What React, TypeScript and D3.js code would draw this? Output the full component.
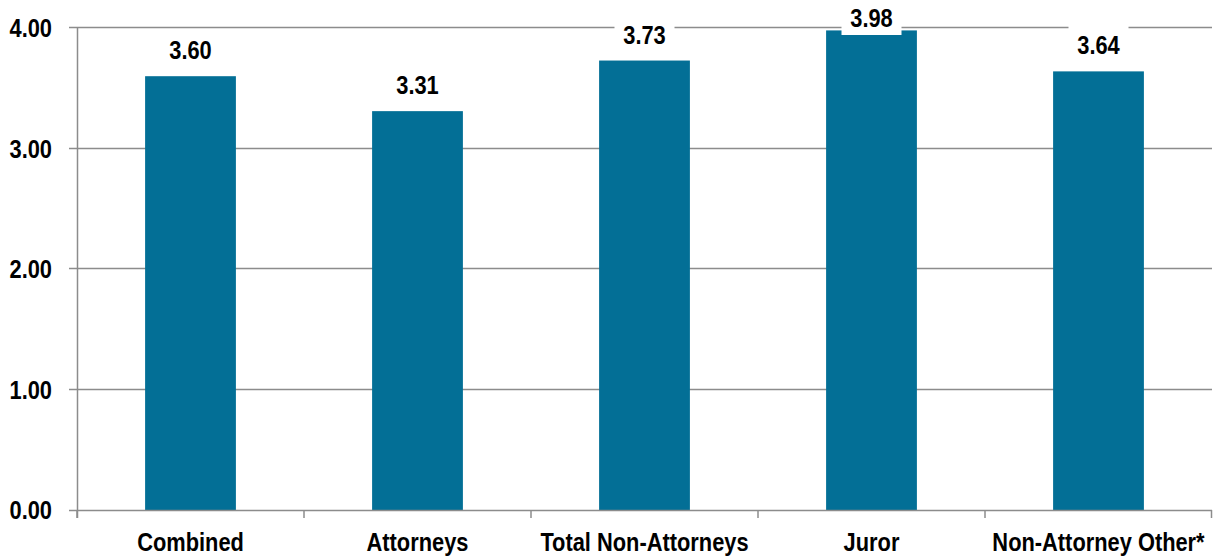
import React, { useEffect, useRef } from "react";
import * as d3 from "d3";

const categories = ["Combined", "Attorneys", "Total Non-Attorneys", "Juror", "Non-Attorney Other*"];
const values = [3.6, 3.31, 3.73, 3.98, 3.64];
const yTicks = [0, 1, 2, 3, 4];

const W = 1213;
const H = 558;
const FONT = "'Liberation Sans', Arial, sans-serif";
const NARROW = 0.84; // no narrow face installed, squeeze the regular one

const App = () => {
    const svgRef = useRef<SVGSVGElement>(null);

    useEffect(() => {
        const svg = d3.select(svgRef.current);
        svg.selectAll("*").remove();

        const margin = { top: 28, right: 1, bottom: 48, left: 77 };

        const x = d3.scaleBand<string>()
            .domain(categories)
            .range([margin.left, W - margin.right])
            .paddingInner(0.6)
            .paddingOuter(0.3);

        const y = d3.scaleLinear()
            .domain([0, 4])
            .range([H - margin.bottom, margin.top]);

        const step = x.step();
        const x0 = margin.left;
        const grey = "#8c8c8c";

        // gridlines
        svg.append("g")
            .selectAll("line")
            .data(yTicks.filter(t => t > 0))
            .enter()
            .append("line")
            .attr("x1", x0 - 8)
            .attr("x2", W - margin.right)
            .attr("y1", d => Math.round(y(d)) - 0.5)
            .attr("y2", d => Math.round(y(d)) - 0.5)
            .attr("stroke", grey)
            .attr("stroke-width", 1.5);

        // bars
        svg.append("g")
            .selectAll("rect")
            .data(values)
            .enter()
            .append("rect")
            .attr("x", (d, i) => x(categories[i])!)
            .attr("width", x.bandwidth())
            .attr("y", d => y(d))
            .attr("height", d => y(0) - y(d))
            .attr("fill", "#036f96");

        // axes lines
        svg.append("line")
            .attr("x1", x0 + 0.5).attr("x2", x0 + 0.5)
            .attr("y1", y(4)).attr("y2", y(0) + 8)
            .attr("stroke", grey).attr("stroke-width", 1.5);

        svg.append("line")
            .attr("x1", x0 - 8).attr("x2", W - margin.right)
            .attr("y1", y(0) + 0.5).attr("y2", y(0) + 0.5)
            .attr("stroke", grey).attr("stroke-width", 1.5);

        // bottom tick marks at category boundaries
        svg.append("g")
            .selectAll("line")
            .data(d3.range(categories.length + 1))
            .enter()
            .append("line")
            .attr("x1", i => Math.min(x0 + i * step, W - 1.5))
            .attr("x2", i => Math.min(x0 + i * step, W - 1.5))
            .attr("y1", y(0))
            .attr("y2", y(0) + 8)
            .attr("stroke", grey)
            .attr("stroke-width", 1.5);

        const label = (sel: any) => sel
            .style("font-family", FONT)
            .style("font-weight", "bold")
            .style("font-size", "26px")
            .style("fill", "#000");

        // y tick labels
        svg.append("g")
            .selectAll("text")
            .data(yTicks)
            .enter()
            .append("text")
            .attr("transform", d => `translate(52,${y(d) + 9}) scale(${NARROW},1)`)
            .attr("text-anchor", "end")
            .call(label)
            .text(d => d3.format(".2f")(d));

        // category labels
        svg.append("g")
            .selectAll("text")
            .data(categories)
            .enter()
            .append("text")
            .attr("transform", d => `translate(${x(d)! + x.bandwidth() / 2},551) scale(${NARROW},1)`)
            .attr("text-anchor", "middle")
            .call(label)
            .text(d => d);

        // value labels with white boxes
        const labels = svg.append("g")
            .selectAll("g")
            .data(values)
            .enter()
            .append("g")
            .attr("transform", (d, i) =>
                `translate(${x(categories[i])! + x.bandwidth() / 2},${Math.max(y(d) - 17, 27)})`);

        labels.append("rect")
            .attr("x", -30)
            .attr("y", -29)
            .attr("width", 60)
            .attr("height", 37)
            .attr("fill", "#fff");

        labels.append("text")
            .attr("text-anchor", "middle")
            .attr("transform", `scale(${NARROW},1)`)
            .call(label)
            .text(d => d3.format(".2f")(d));
    }, []);

    return (
        <div style={{ position: "absolute", left: 0, top: 0, width: W, height: H, background: "white" }}>
            <svg ref={svgRef} width={W} height={H} />
        </div>
    );
};

export default App;
